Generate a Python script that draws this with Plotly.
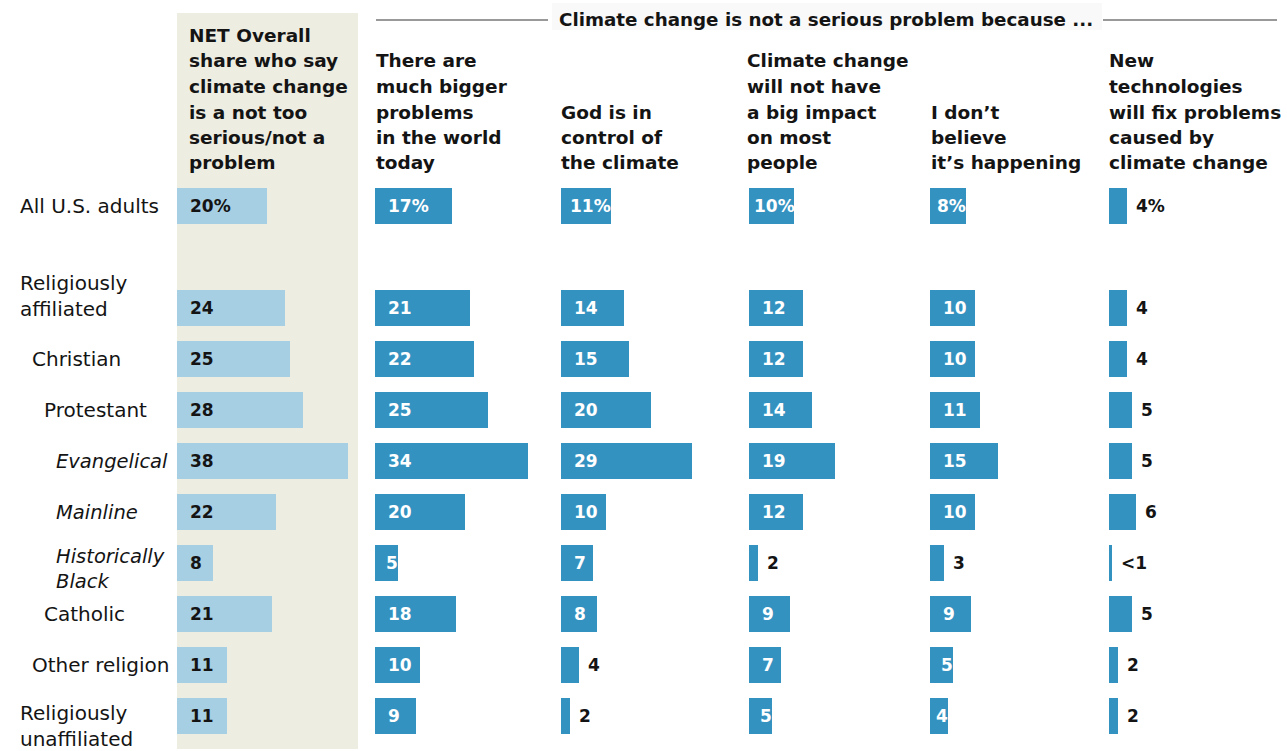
import plotly.graph_objects as go

# ---- data -------------------------------------------------------------
groups = ["All U.S. adults", "Religiously affiliated", "Christian", "Protestant",
          "Evangelical", "Mainline", "Historically Black", "Catholic",
          "Other religion", "Religiously unaffiliated"]

net_not_serious = [20, 24, 25, 28, 38, 22, 8, 21, 11, 11]
bigger_problems = [17, 21, 22, 25, 34, 20, 5, 18, 10, 9]
god_in_control = [11, 14, 15, 20, 29, 10, 7, 8, 4, 2]
no_big_impact = [10, 12, 12, 14, 19, 12, 2, 9, 7, 5]
not_happening = [8, 10, 10, 11, 15, 10, 3, 9, 5, 4]
tech_will_fix = [4, 4, 4, 5, 5, 6, 0.6, 5, 2, 2]
tech_will_fix_labels = ["4", "4", "4", "5", "5", "6", "<1", "5", "2", "2"]

headers = [
    ["NET Overall", "share who say", "climate change", "is a not too", "serious/not a", "problem"],
    ["There are", "much bigger", "problems", "in the world", "today"],
    ["God is in", "control of", "the climate"],
    ["Climate change", "will not have", "a big impact", "on most", "people"],
    ["I don’t", "believe", "it’s happening"],
    ["New", "technologies", "will fix problems", "caused by", "climate change"],
]
super_title = "Climate change is not a serious problem because ..."

# ---- layout constants ---------------------------------------------------
W, H = 1287, 751
PX_PER_PT = 4.5            # horizontal pixels per percentage point
ROW_PX = 51.0              # vertical pixels per row
FIRST_ROW_Y = 206          # pixel centre of the first row
HEAD_LAST_Y = 163          # pixel centre of the last header line
HEAD_STEP = 25.5           # header line spacing in pixels
FONT = "DejaVu Sans"
VAL_SIZE = 17
HEAD_SIZE = 18.5
LIGHT = "#a7cfe4"
DARK = "#3492c1"
BEIGE = "#eeede2"
INK = "#141414"

# rough glyph widths (em) of the bold value font, for fitting labels in bars
GLYPH_EM = {"%": 1.0, "<": 0.84}


def text_px(s):
    return sum(GLYPH_EM.get(c, 0.70) for c in s) * VAL_SIZE


# panel pixel spans (left edge of bars, right edge of panel), header x
panels = [
    dict(vals=net_not_serious, x0=177, x1=358, hx=187, color=LIGHT, txt=INK, inside_min=0),
    dict(vals=bigger_problems, x0=375, x1=552, hx=374, color=DARK, txt="white", inside_min=0),
    dict(vals=god_in_control, x0=561, x1=740, hx=559, color=DARK, txt="white", inside_min=5),
    dict(vals=no_big_impact, x0=749, x1=922, hx=745, color=DARK, txt="white", inside_min=4),
    dict(vals=not_happening, x0=930, x1=1100, hx=929, color=DARK, txt="white", inside_min=4),
    dict(vals=tech_will_fix, x0=1109, x1=1287, hx=1107, color=DARK, txt="white", inside_min=1000),
]

# row positions: a blank row separates the total from the subgroups
ypos = [0] + [i + 1 for i in range(1, len(groups))]

fig = go.Figure()
annotations = []
layout_axes = {}

for k, p in enumerate(panels):
    ax = "x" if k == 0 else f"x{k + 1}"
    axkey = "xaxis" if k == 0 else f"xaxis{k + 1}"
    layout_axes[axkey] = dict(
        domain=[p["x0"] / W, p["x1"] / W],
        range=[0, (p["x1"] - p["x0"]) / PX_PER_PT],
        visible=False, fixedrange=True, anchor="y",
    )
    fig.add_trace(go.Bar(
        x=p["vals"], y=ypos, orientation="h", width=0.72,
        marker=dict(color=p["color"], line=dict(width=0)),
        xaxis=ax, yaxis="y", hoverinfo="skip", showlegend=False,
    ))
    for i, v in enumerate(p["vals"]):
        label = tech_will_fix_labels[i] if k == 5 else f"{v:g}"
        if i == 0:
            label += "%"
        inside = v >= p["inside_min"]
        if inside:
            room = v * PX_PER_PT - text_px(label) - 2
            shift = max(3, min(11, room))
        else:
            shift = 7
        annotations.append(dict(
            x=0 if inside else v, y=ypos[i], xref=ax, yref="y",
            text=label, showarrow=False, xanchor="left", yanchor="middle",
            xshift=shift,
            font=dict(family=FONT, size=VAL_SIZE,
                      color=p["txt"] if inside else INK, weight="bold"),
        ))
    # column header, one line at a time, bottom-aligned across panels
    lines = headers[k]
    n = len(lines)
    for j, line in enumerate(lines):
        cy = HEAD_LAST_Y - (n - 1 - j) * HEAD_STEP
        annotations.append(dict(
            x=p["hx"] / W, y=1 - cy / H, xref="paper", yref="paper",
            text=line, showarrow=False, xanchor="left", yanchor="middle",
            font=dict(family=FONT, size=HEAD_SIZE, color=INK, weight="bold"),
        ))

# row labels with indentation and italics for the Protestant traditions
label_style = {
    "All U.S. adults": (18, False, 0),
    "Religiously affiliated": (18, False, 12),
    "Christian": (30, False, 0),
    "Protestant": (42, False, 0),
    "Evangelical": (54, True, 0),
    "Mainline": (54, True, 0),
    "Historically Black": (54, True, -6),
    "Catholic": (42, False, 0),
    "Other religion": (30, False, 0),
    "Religiously unaffiliated": (18, False, -10),
}
for g, y in zip(groups, ypos):
    x, italic, shift = label_style[g]
    text = g
    if g in ("Religiously affiliated", "Religiously unaffiliated", "Historically Black"):
        first, rest = g.split(" ", 1)
        text = f"{first}<br>{rest}"
    annotations.append(dict(
        x=x / W, y=y, xref="paper", yref="y", text=text, showarrow=False,
        xanchor="left", yanchor="middle", align="left", yshift=shift,
        font=dict(family=FONT, size=19.5 if italic else 20, color=INK,
                  style="italic" if italic else "normal"),
    ))

# spanning title over the five reason panels
annotations.append(dict(
    x=826 / W, y=1 - 20 / H, xref="paper", yref="paper", text=super_title,
    showarrow=False, xanchor="center", yanchor="middle",
    font=dict(family=FONT, size=18.3, color=INK, weight="bold"),
))

shapes = [
    dict(type="rect", xref="paper", yref="paper", layer="below",
         x0=177 / W, x1=358 / W, y0=1 - 749 / H, y1=1 - 13 / H,
         fillcolor=BEIGE, line=dict(width=0)),
    dict(type="rect", xref="paper", yref="paper", layer="below",
         x0=552 / W, x1=1102 / W, y0=1 - 30 / H, y1=1 - 3 / H,
         fillcolor="#f9f9f9", line=dict(width=0)),
    dict(type="line", xref="paper", yref="paper", x0=376 / W, x1=548 / W,
         y0=1 - 20 / H, y1=1 - 20 / H, line=dict(color="#777777", width=1.5)),
    dict(type="line", xref="paper", yref="paper", x0=1103 / W, x1=1277 / W,
         y0=1 - 20 / H, y1=1 - 20 / H, line=dict(color="#777777", width=1.5)),
]

top_val = -FIRST_ROW_Y / ROW_PX
bottom_val = (H - FIRST_ROW_Y) / ROW_PX

fig.update_layout(
    width=W, height=H,
    margin=dict(l=0, r=0, t=0, b=0),
    paper_bgcolor="white", plot_bgcolor="rgba(0,0,0,0)",
    yaxis=dict(range=[bottom_val, top_val], domain=[0, 1], visible=False,
               fixedrange=True),
    annotations=annotations, shapes=shapes,
    bargap=0, showlegend=False,
    **layout_axes,
)

fig.write_html("out.html", config={"displayModeBar": False})
